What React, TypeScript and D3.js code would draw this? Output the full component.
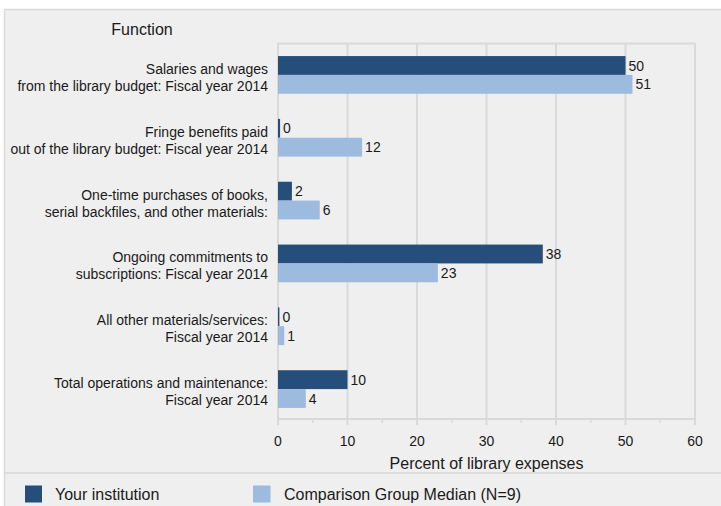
import React from 'react';
import * as d3 from 'd3';

// Data
const categories: string[][] = [
  ['Salaries and wages', 'from the library budget: Fiscal year 2014'],
  ['Fringe benefits paid', 'out of the library budget: Fiscal year 2014'],
  ['One-time purchases of books,', 'serial backfiles, and other materials:'],
  ['Ongoing commitments to', 'subscriptions: Fiscal year 2014'],
  ['All other materials/services:', 'Fiscal year 2014'],
  ['Total operations and maintenance:', 'Fiscal year 2014'],
];
const yourInstitution = [50, 0.3, 2, 38.1, 0.2, 10];
const comparisonMedian = [51, 12.1, 6, 23, 0.9, 4];
const seriesNames = ['Your institution', 'Comparison Group Median (N=9)'];
const xTicks = [0, 10, 20, 30, 40, 50, 60];
const xMinorTicks = [5, 15, 25, 35, 45, 55];

const W = 721;
const H = 506;
const DARK = '#254e7a';
const LIGHT = '#9dbadf';
const BG = '#efefef';
const GRID = '#d9d9d9';
const TEXT = '#1a1a1a';
const FONT = '"Liberation Sans", Arial, sans-serif';

export default function App() {
  const x = d3.scaleLinear().domain([0, 60]).range([278, 695]);
  const y = d3
    .scaleBand<number>()
    .domain(d3.range(categories.length))
    .range([43.5, 420.5])
    .paddingInner(0.4)
    .paddingOuter(0.2);
  const sub = d3.scaleBand<number>().domain([0, 1]).range([0, y.bandwidth()]);
  const values = [yourInstitution, comparisonMedian];
  const colors = [DARK, LIGHT];

  const plotTop = 43.5;
  const axisY = 419;

  return (
    <div style={{ position: 'fixed', left: 0, top: 0 }}>
      <svg width={W} height={H} style={{ display: 'block', fontFamily: FONT }}>
        <rect x={0} y={0} width={W} height={H} fill="#ffffff" />
        <rect x={4.5} y={9.5} width={W} height={H} fill={BG} stroke={GRID} strokeWidth={1.5} />

        {/* header */}
        <text x={142} y={35} fontSize={16} fill={TEXT} textAnchor="middle">
          Function
        </text>

        {/* plot frame top */}
        <line x1={x(0) - 1} x2={x(60)} y1={plotTop} y2={plotTop} stroke={GRID} strokeWidth={2} />

        {/* vertical gridlines */}
        {xTicks.map((t) => (
          <line key={t} x1={x(t)} x2={x(t)} y1={plotTop} y2={axisY + 6} stroke={GRID} strokeWidth={2} />
        ))}
        {xMinorTicks.map((t) => (
          <line key={t} x1={x(t)} x2={x(t)} y1={axisY} y2={axisY + 4} stroke={GRID} strokeWidth={1.5} />
        ))}
        <line x1={x(0)} x2={x(60)} y1={axisY} y2={axisY} stroke={GRID} strokeWidth={2} />

        {/* bars */}
        {categories.map((lines, i) => {
          const c = (y(i) as number) + y.bandwidth() / 2;
          return (
            <g key={i}>
              <text x={268} fontSize={14} fill={TEXT} textAnchor="end">
                <tspan x={268} y={c - 1}>{lines[0]}</tspan>
                <tspan x={268} y={c + 16}>{lines[1]}</tspan>
              </text>
              {values.map((vals, s) => {
                const by = (y(i) as number) + (sub(s) as number);
                const w = Math.max(x(vals[i]) - x(0), 1.2);
                return (
                  <g key={s}>
                    <rect x={x(0)} y={by} width={w} height={sub.bandwidth()} fill={colors[s]} />
                    <text
                      x={x(0) + w + 3}
                      y={by + sub.bandwidth() / 2}
                      dy="0.36em"
                      fontSize={14}
                      fill={TEXT}
                    >
                      {Math.round(vals[i])}
                    </text>
                  </g>
                );
              })}
            </g>
          );
        })}

        {/* x tick labels */}
        {xTicks.map((t) => (
          <text key={t} x={x(t)} y={446} fontSize={14} fill={TEXT} textAnchor="middle">
            {t}
          </text>
        ))}
        <text x={(x(0) + x(60)) / 2} y={469} fontSize={16} fill={TEXT} textAnchor="middle">
          Percent of library expenses
        </text>

        {/* legend */}
        <line x1={4.5} x2={W} y1={473} y2={473} stroke={GRID} strokeWidth={1.5} />
        <rect x={25} y={485.5} width={17} height={17} fill={DARK} />
        <text x={55} y={500} fontSize={16} fill={TEXT}>
          {seriesNames[0]}
        </text>
        <rect x={253} y={485.5} width={17.5} height={17} fill={LIGHT} />
        <text x={284} y={500} fontSize={16} fill={TEXT}>
          {seriesNames[1]}
        </text>
      </svg>
    </div>
  );
}
